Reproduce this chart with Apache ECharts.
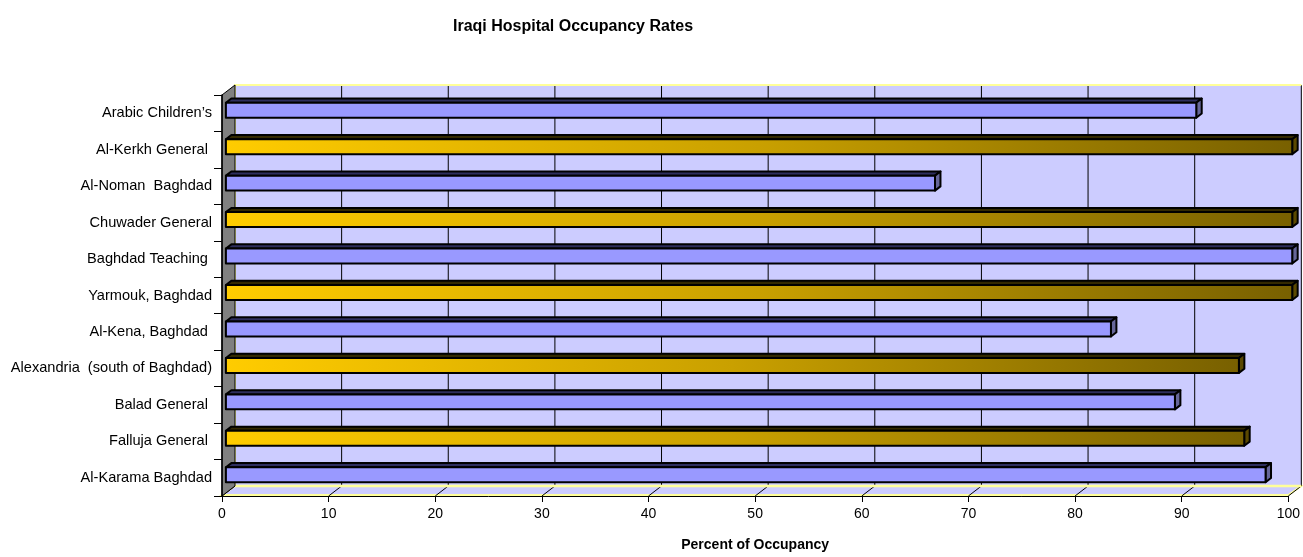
<!DOCTYPE html>
<html><head><meta charset="utf-8">
<script src="https://cdn.jsdelivr.net/npm/echarts@6/dist/echarts.min.js"></script>
<style>html,body{margin:0;padding:0;background:#fff}#c{width:1303px;height:557px}</style>
</head><body><div id="c"></div>
<script>
const titleText = "Iraqi Hospital Occupancy Rates";
const xAxisName = "Percent of Occupancy";
const categories = ["Arabic Children\u2019s", "Al-Kerkh General ", "Al-Noman  Baghdad", "Chuwader General", "Baghdad Teaching ", "Yarmouk, Baghdad", "Al-Kena, Baghdad ", "Alexandria  (south of Baghdad)", "Balad General ", "Falluja General ", "Al-Karama Baghdad"];
const occupancy = [91, 100, 66.5, 100, 100, 100, 83, 95, 89, 95.5, 97.5];
const xTicks = [0, 10, 20, 30, 40, 50, 60, 70, 80, 90, 100];

const DX = 13, DY = -10; // 3D depth vector (pixels)
const FONT = 'Liberation Sans, Arial, sans-serif';

const chart = echarts.init(document.getElementById('c'), null, {renderer: 'canvas'});

function renderWalls(params, api) {
  const cs = params.coordSys;
  const x0 = cs.x, x1 = cs.x + cs.width, y0 = cs.y, y1 = cs.y + cs.height;
  const ch = [];
  ch.push({type: 'polygon', shape: {points: [[x0 + DX, y0 + DY], [x1 + DX, y0 + DY], [x1 + DX, y1 + DY], [x0 + DX, y1 + DY]]},
    style: {fill: '#CCCCFF'}});
  ch.push({type: 'polygon', shape: {points: [[x0, y1 - 1], [x1, y1 - 1], [x1 + DX, y1 + DY], [x0 + DX, y1 + DY]]},
    style: {fill: '#CCCCFF', stroke: '#FFFF99', lineWidth: 2}});
  xTicks.forEach(function (v) {
    const x = api.coord([v, 0])[0];
    if (v > 0) {
      ch.push({type: 'line', shape: {x1: x + DX, y1: y0 + DY, x2: x + DX, y2: y1 + DY}, style: {stroke: '#000', lineWidth: 1}});
    }
    ch.push({type: 'line', shape: {x1: x, y1: y1, x2: x + DX, y2: y1 + DY}, style: {stroke: '#000', lineWidth: 1}});
  });
  ch.push({type: 'polyline', shape: {points: [[x0 + DX, y1 + DY], [x0 + DX, y0 + DY], [x1 + DX, y0 + DY]]},
    style: {stroke: '#FFFF99', lineWidth: 2, fill: null}});
  ch.push({type: 'line', shape: {x1: x0 + DX, y1: y1 + DY, x2: x1 + DX, y2: y1 + DY}, style: {stroke: '#FFFF99', lineWidth: 2.5}});
  ch.push({type: 'polygon', shape: {points: [[x0, y0], [x0 + DX, y0 + DY], [x0 + DX, y1 + DY], [x0, y1]]},
    style: {fill: '#808080', stroke: '#000', lineWidth: 1}});
  return {type: 'group', children: ch};
}

function renderBar(params, api) {
  const v = api.value(0), i = api.value(1);
  const p0 = api.coord([0, i]), p1 = api.coord([v, i]);
  const band = api.size([0, 1])[1];
  const h = band * 0.41;
  const fx = DX * 0.3, fy = DY * 0.3, bx = DX * 0.72, by = DY * 0.72;
  const ddx = bx - fx, ddy = by - fy;
  const xa = p0[0] + fx, xb = p1[0] + fx, yc = p0[1] + fy;
  const yt = yc - h / 2, yb = yc + h / 2;
  const blue = (i % 2 === 0);
  const front = blue ? '#9999FF' : {type: 'linear', x: 0, y: 0, x2: 1, y2: 0,
    colorStops: [{offset: 0, color: '#FFCC00'}, {offset: 0.5, color: '#C9A000'}, {offset: 1, color: '#786000'}]};
  const top = blue ? '#2E2E5E' : '#332900';
  const side = blue ? '#666699' : '#5A4800';
  const st = {stroke: '#000', lineWidth: 2, lineJoin: 'round'};
  return {type: 'group', children: [
    {type: 'polygon', shape: {points: [[xa, yt], [xb, yt], [xb + ddx, yt + ddy], [xa + ddx, yt + ddy]]},
      style: Object.assign({fill: top}, st)},
    {type: 'polygon', shape: {points: [[xb, yt], [xb + ddx, yt + ddy], [xb + ddx, yb + ddy], [xb, yb]]},
      style: Object.assign({fill: side}, st)},
    {type: 'rect', shape: {x: xa, y: yt, width: xb - xa, height: h},
      style: Object.assign({fill: front}, st)}
  ]};
}

chart.setOption({
  animation: false,
  backgroundColor: '#fff',
  title: {text: titleText, left: 568, top: 14, textAlign: 'center',
    textStyle: {fontFamily: FONT, fontSize: 16, fontWeight: 'bold', color: '#000'}},
  grid: {left: 222, right: 12, top: 95, bottom: 61, containLabel: false},
  xAxis: {type: 'value', min: 0, max: 100, interval: 10, z: 10,
    name: xAxisName, nameLocation: 'middle', nameGap: 42,
    nameTextStyle: {fontFamily: FONT, fontSize: 14, fontWeight: 'bold', color: '#000'},
    axisLine: {show: true, lineStyle: {color: '#000', width: 1}},
    axisTick: {show: true, length: 6, lineStyle: {color: '#000'}},
    axisLabel: {fontFamily: FONT, fontSize: 14, color: '#000', margin: 11},
    splitLine: {show: false}},
  yAxis: {type: 'category', data: categories, inverse: true, z: 10,
    axisLine: {show: true, lineStyle: {color: '#000', width: 1.5}},
    axisTick: {show: true, length: 8, lineStyle: {color: '#000'}},
    axisLabel: {fontFamily: FONT, fontSize: 14.6, color: '#000', margin: 10},
    splitLine: {show: false}},
  series: [
    {type: 'custom', z: 1, silent: true, renderItem: renderWalls, data: [[0, 0]], encode: {x: 0, y: 1}},
    {type: 'custom', z: 3, renderItem: renderBar, data: occupancy.map(function (v, i) { return [v, i]; }), encode: {x: 0, y: 1}}
  ]
});
</script>
</body></html>
